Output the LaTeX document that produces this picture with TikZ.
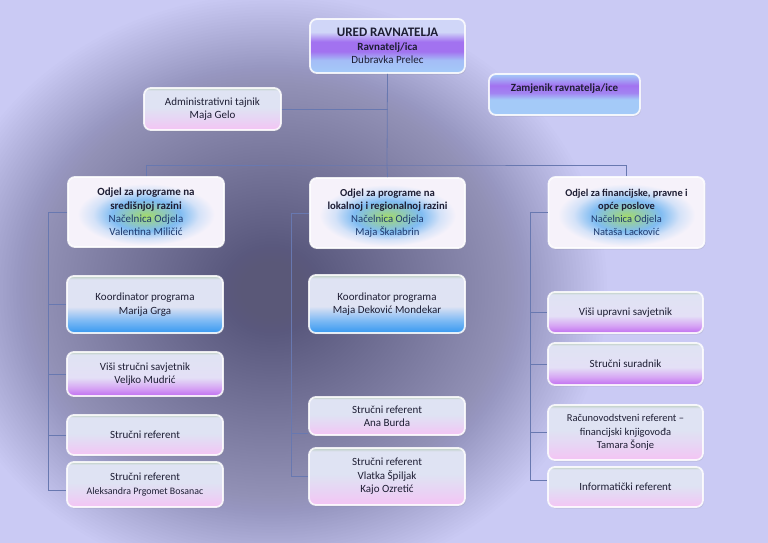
\documentclass[tikz,border=0pt]{standalone}
\usepackage{fontspec}
\setmainfont{Carlito}
\usetikzlibrary{calc,shadows}
\definecolor{bgc}{HTML}{CACAF4}
\definecolor{bgdark}{HTML}{5A5878}
\definecolor{txt}{HTML}{1E1E34}
\definecolor{nblue}{HTML}{1F3A6E}
\definecolor{lc}{HTML}{6878B0}
\definecolor{topband}{HTML}{BCCEC0}
\definecolor{lightA}{HTML}{DFE3F3}
\definecolor{lightB}{HTML}{E4E0F6}
\definecolor{kblue}{HTML}{3698F0}
\definecolor{kblueM}{HTML}{7EBAF4}
\definecolor{vpurp}{HTML}{C06EF0}
\definecolor{vpurpM}{HTML}{D6A4F4}
\definecolor{pinkB}{HTML}{F4C4F4}
\definecolor{pinkM}{HTML}{E8D4F4}
\definecolor{tLav}{HTML}{D0D6F8}
\definecolor{tPurp}{HTML}{A272F0}
\definecolor{tBlue}{HTML}{A4CAF8}
\definecolor{dGreen}{HTML}{A4DA68}
\definecolor{dBlue}{HTML}{80BCF2}
\definecolor{dPale}{HTML}{D4E2F8}
\definecolor{dWhite}{HTML}{F6F2FA}
\pgfdeclareverticalshading{shKoord}{100bp}{color(0bp)=(kblue); color(25bp)=(kblue); color(36bp)=(kblueM); color(48bp)=(lightA); color(72bp)=(lightA); color(75bp)=(topband); color(100bp)=(topband)}
\pgfdeclareverticalshading{shPurple}{100bp}{color(0bp)=(vpurp); color(25bp)=(vpurp); color(34bp)=(vpurpM); color(46bp)=(lightB); color(72bp)=(lightA); color(75bp)=(topband); color(100bp)=(topband)}
\pgfdeclareverticalshading{shPink}{100bp}{color(0bp)=(pinkB); color(25bp)=(pinkB); color(38bp)=(pinkM); color(52bp)=(lightA); color(72bp)=(lightA); color(75bp)=(topband); color(100bp)=(topband)}
\pgfdeclareverticalshading{shTop}{100bp}{color(0bp)=(tBlue); color(25bp)=(tBlue); color(37bp)=(tBlue!85!tPurp); color(45bp)=(tPurp); color(54bp)=(tPurp); color(63bp)=(tLav); color(75bp)=(tLav); color(100bp)=(tLav)}
\pgfdeclareverticalshading{shDep}{100bp}{color(0bp)=(tBlue); color(25bp)=(tBlue); color(44bp)=(tBlue); color(52bp)=(tPurp!80!tBlue); color(61bp)=(tPurp); color(69bp)=(tBlue!60!tPurp); color(75bp)=(tBlue); color(100bp)=(tBlue)}
\pgfdeclareradialshading{shDept}{\pgfpoint{0bp}{-3bp}}{color(0bp)=(dGreen); color(5bp)=(dGreen!50!dBlue); color(11bp)=(dBlue); color(17bp)=(dPale); color(22bp)=(dWhite); color(50bp)=(dWhite)}
\tikzset{
  box/.style={shade, rounded corners=7pt, draw=white, draw opacity=0.85, line width=1.8pt,
    align=center, text=txt, inner sep=2pt, font=\fontsize{11}{13.4}\selectfont,
    drop shadow={opacity=0.18, shadow xshift=1pt, shadow yshift=-1.5pt}},
  conn/.style={draw=lc, line width=0.8pt}
}
\newcommand{\nb}[1]{\textcolor{nblue}{#1}}
\begin{document}
\begin{tikzpicture}[x=1pt,y=-1pt]
\useasboundingbox (0,0) rectangle (768,543);
\fill[bgc] (0,0) rectangle (768,543);
\begin{scope}
\clip (0,0) rectangle (768,543);
\foreach \i in {0,...,99}{
  \pgfmathsetmacro\rx{335-3.3*\i}
  \pgfmathsetmacro\ry{295-2.9*\i}
  \fill[bgdark, opacity=0.016] (272,290) ellipse [x radius=\rx, y radius=\ry];
}
\end{scope}

% top level
\node[box, shading=shTop, minimum width=155pt, minimum height=54pt] (top) at (387.5,46)
  {{\fontsize{13}{14}\selectfont\bfseries URED RAVNATELJA}\\{\bfseries Ravnatelj/ica}\\Dubravka Prelec};
\node[box, shading=shPink, minimum width=137pt, minimum height=42pt] (admin) at (212.5,109)
  {Administrativni tajnik\\Maja Gelo};
\node[box, shading=shDep, minimum width=151pt, minimum height=41pt] (deputy) at (564.5,94.5)
  {\textbf{Zamjenik ravnatelja/ice}\\[1pt]\mbox{}};

% departments
\node[box, shading=shDept, minimum width=156pt, minimum height=70pt] (deptL) at (146,212)
  {\textbf{Odjel za programe na}\\\textbf{središnjoj razini}\\\nb{Načelnica Odjela}\\\nb{Valentina Miličić}};
\node[box, shading=shDept, minimum width=155pt, minimum height=70pt, font=\fontsize{10.7}{13.2}\selectfont] (deptM) at (387.5,213)
  {\textbf{Odjel za programe na}\\\textbf{lokalnoj i regionalnoj razini}\\\nb{Načelnica Odjela}\\\nb{Maja Škalabrin}};
\node[box, shading=shDept, minimum width=156pt, minimum height=71pt, font=\fontsize{10.4}{13.2}\selectfont] (deptR) at (626.5,212.5)
  {\textbf{Odjel za financijske, pravne i}\\\textbf{opće poslove}\\\nb{Načelnica Odjela}\\\nb{Nataša Lacković}};

% left column
\node[box, shading=shKoord, minimum width=156pt, minimum height=57pt] (K1) at (145,304.5)
  {Koordinator programa\\Marija Grga};
\node[box, shading=shPurple, minimum width=156pt, minimum height=44pt] (V1) at (145,374)
  {Viši stručni savjetnik\\Veljko Mudrić};
\node[box, shading=shPink, minimum width=156pt, minimum height=40pt] (S1) at (145,435)
  {Stručni referent};
\node[box, shading=shPink, minimum width=156pt, minimum height=45pt] (S2) at (145,484.5)
  {Stručni referent\\{\fontsize{9.9}{13.4}\selectfont Aleksandra Prgomet Bosanac}};

% middle column
\node[box, shading=shKoord, minimum width=156pt, minimum height=58pt] (K2) at (387,304)
  {Koordinator programa\\Maja Deković Mondekar};
\node[box, shading=shPink, minimum width=156pt, minimum height=38pt] (A) at (387,416)
  {Stručni referent\\Ana Burda};
\node[box, shading=shPink, minimum width=156pt, minimum height=57pt] (Vl) at (387,476.5)
  {Stručni referent\\Vlatka Špiljak\\Kajo Ozretić};

% right column
\node[box, shading=shPurple, minimum width=155pt, minimum height=41pt] (VU) at (625.5,312.5)
  {Viši upravni savjetnik};
\node[box, shading=shPurple, minimum width=155pt, minimum height=42pt] (SS) at (625.5,364)
  {Stručni suradnik};
\node[box, shading=shPink, minimum width=155pt, minimum height=55pt, font=\fontsize{10.5}{13.4}\selectfont] (R) at (625.5,432.5)
  {Računovodstveni referent –\\financijski knjigovođa\\Tamara Šonje};
\node[box, shading=shPink, minimum width=155pt, minimum height=40pt] (I) at (625.5,487)
  {Informatički referent};

% connectors
\coordinate (bus) at (387,165);
\coordinate (lx) at (48,0);
\coordinate (mx) at (291,0);
\coordinate (rx) at (530,0);
\draw[conn] (top.south) -- (bus);
\draw[conn] (admin.east) -- (admin.east -| top.south);
\draw[conn] ($(deputy.west)+(0,4.5)$ -| top.south) -- ($(deputy.west)+(0,4.5)$);
\draw[conn] (deptL.north) |- (bus) -| (deptR.north);
\draw[conn] (bus) -- (deptM.north);
% left
\draw[conn] (deptL.west) -- (deptL.west -| lx) -- (lx |- {$(S2.west)+(0,5.5)$}) -- ($(S2.west)+(0,5.5)$);
\foreach \n in {K1,V1,S1} \draw[conn] (lx |- \n.west) -- (\n.west);
% middle
\draw[conn] (deptM.west) -- (deptM.west -| mx) -- (mx |- Vl.west) -- (Vl.west);
\draw[conn] (mx |- {$(A.south west)+(0,-3)$}) -- ($(A.south west)+(0,-3)$);
% right
\draw[conn] (deptR.west) -- (deptR.west -| rx) -- (rx |- {$(I.west)+(0,-7)$}) -- ($(I.west)+(0,-7)$);
\foreach \n in {VU,SS,R} \draw[conn] (rx |- \n.west) -- (\n.west);
\end{tikzpicture}
\end{document}
